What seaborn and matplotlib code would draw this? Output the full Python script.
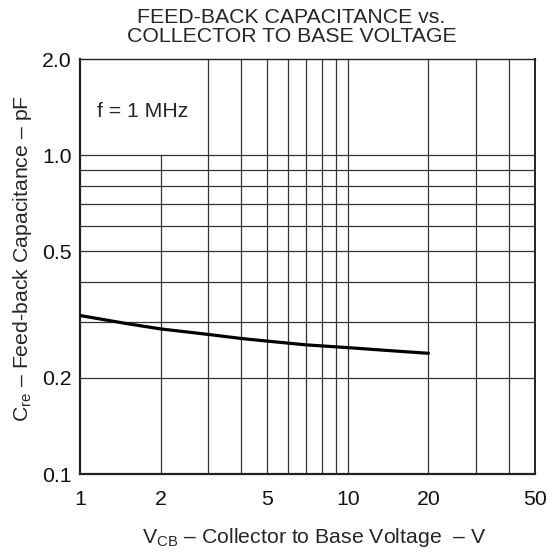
import numpy as np
import pandas as pd
import matplotlib
matplotlib.use('Agg')
import matplotlib.pyplot as plt
import seaborn as sns

vcb = [1, 1.5, 2, 3, 4, 5, 7, 10, 15, 20]
cre = [0.314, 0.296, 0.285, 0.274, 0.266, 0.261, 0.254, 0.249, 0.243, 0.239]

x_ticks = [1, 2, 5, 10, 20, 50]
x_tick_labels = ['1', '2', '5', '10', '20', '50']
y_ticks = [0.1, 0.2, 0.5, 1.0, 2.0]
y_tick_labels = ['0.1', '0.2', '0.5', '1.0', '2.0']
x_grid = [3, 4, 5, 6, 7, 8, 9, 10, 20, 30, 40]
y_grid = [0.2, 0.3, 0.4, 0.5, 0.6, 0.7, 0.8, 0.9, 1.0]

sns.set_style('white')
plt.rcParams['font.family'] = ['Liberation Sans', 'DejaVu Sans']
plt.rcParams['mathtext.fontset'] = 'custom'
plt.rcParams['mathtext.rm'] = 'Liberation Sans'

fs = 15.3
df = pd.DataFrame({'vcb': vcb, 'cre': cre})

fig = plt.figure(figsize=(5.55, 5.52), dpi=100)
ax = fig.add_axes([0.1441, 0.1413, 0.8198, 0.7518])
ax.set_xscale('log')
ax.set_yscale('log')
ax.set_xlim(1, 50)
ax.set_ylim(0.1, 2.0)

grid_kw = dict(color='#333333', lw=0.9, zorder=1)
ax.vlines(x_grid, 0.1, 2.0, **grid_kw)
ax.vlines(2, 0.1, 1.0, **grid_kw)
ax.hlines(y_grid, 1, 50, **grid_kw)

sns.lineplot(data=df, x='vcb', y='cre', color='black', lw=2.3, ax=ax, zorder=3)

ax.set_xticks(x_ticks)
ax.set_xticklabels(x_tick_labels)
ax.set_yticks(y_ticks)
ax.set_yticklabels(y_tick_labels)
ax.minorticks_off()
ax.tick_params(axis='both', length=0, labelsize=fs, labelcolor='#111111')
ax.tick_params(axis='x', pad=11.5)
ax.tick_params(axis='y', pad=6)

for s in ax.spines.values():
    s.set_color('#222222')
    s.set_linewidth(1.0)
ax.spines['left'].set_linewidth(1.6)
ax.spines['bottom'].set_linewidth(1.6)
ax.spines['right'].set_linewidth(1.4)

ax.set_xlabel(r'V$_\mathrm{CB}$ – Collector to Base Voltage  – V', fontsize=fs)
ax.set_ylabel(r'C$_\mathrm{re}$ – Feed-back Capacitance – pF', fontsize=fs)
ax.xaxis.set_label_coords(0.516, -0.125)
ax.yaxis.set_label_coords(-0.101, 0.52)

ax.text(0.037, 0.86, 'f = 1 MHz', transform=ax.transAxes, fontsize=fs, va='baseline')

fig.text(0.525, 0.968, 'FEED-BACK CAPACITANCE vs.', ha='center', va='center', fontsize=fs)
fig.text(0.525, 0.934, 'COLLECTOR TO BASE VOLTAGE', ha='center', va='center', fontsize=fs)

fig.savefig('out.png', dpi=100)
